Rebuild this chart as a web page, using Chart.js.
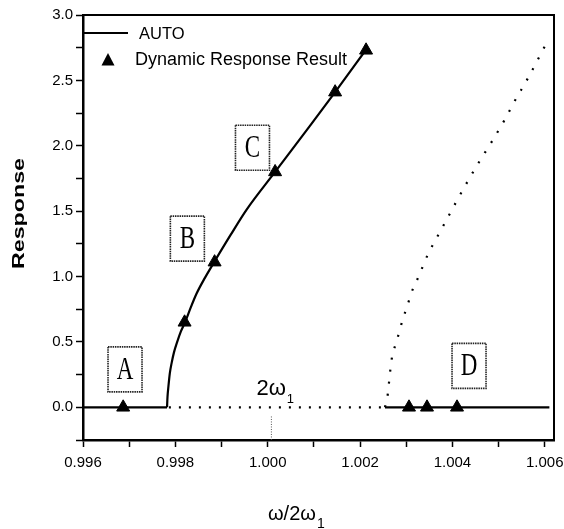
<!DOCTYPE html>
<html><head><meta charset="utf-8">
<script src="https://cdn.jsdelivr.net/npm/chart.js@4.4.1/dist/chart.umd.min.js"></script>
<style>html,body{margin:0;padding:0;background:#fff;overflow:hidden}#wrap{width:564px;height:529px}</style>
</head><body><div id="wrap"><canvas id="c" width="564" height="529"></canvas></div>
<script>
// ---- data ----
const baseX = [0.996, 0.99782];
const baseY = [0, 0];
const stableX = [0.99782, 0.99783, 0.99785, 0.99788, 0.99792, 0.99797, 0.99804, 0.99812, 0.99821, 0.99833, 0.99846, 0.99864, 0.99884, 0.99920, 0.99954, 1.00016, 1.00091, 1.00146, 1.00214];
const stableY = [0, 0.08, 0.16, 0.26, 0.34, 0.42, 0.50, 0.58, 0.65, 0.76, 0.87, 0.99, 1.11, 1.32, 1.51, 1.80, 2.15, 2.41, 2.74];
const zeroDotX = [0.99786, 1.00254];
const zeroDotY = [0, 0];
const zeroSolidX = [1.00254, 1.00610];
const zeroSolidY = [0, 0];
const unstableX = [1.00254, 1.00260, 1.00263, 1.00266, 1.00270, 1.00278, 1.00286, 1.00293, 1.00302, 1.00311, 1.00323, 1.00335, 1.00347, 1.00362, 1.00376, 1.00405, 1.00435, 1.00455, 1.00485, 1.00515, 1.00533, 1.00564, 1.00600];
const unstableY = [0, 0.10, 0.20, 0.30, 0.40, 0.49, 0.59, 0.68, 0.77, 0.875, 0.97, 1.07, 1.17, 1.27, 1.36, 1.55, 1.74, 1.86, 2.03, 2.21, 2.33, 2.52, 2.76];
const dynX = [0.99687, 0.99820, 0.99885, 1.00016, 1.00146, 1.00213, 1.00306, 1.00345, 1.00410];
const dynY = [0, 0.65, 1.11, 1.80, 2.41, 2.73, 0, 0, 0];
const markX = [1.00008, 1.00008];
const markY = [-0.07, -0.25];
const boxLabels = ['A', 'B', 'C', 'D'];
const boxX = [0.99691, 0.99826, 0.99967, 1.00436];
const boxY = [0.29, 1.29, 1.985, 0.317];
const seriesNames = ['AUTO', 'Dynamic Response Result'];
const xTitle = ['ω/2ω', '1'];
const markText = ['2ω', '1'];
const yTitle = 'Response';

const pts = (xs, ys) => xs.map((x, i) => ({x, y: ys[i]}));
const SANS = '"Liberation Sans", Arial, sans-serif';
const SERIF = '"Liberation Serif", "Times New Roman", serif';

const annot = {
  id: 'annot',
  afterDraw(chart) {
    const {ctx, chartArea: a, scales: {x, y}} = chart;
    ctx.save();
    // frame top & right
    ctx.strokeStyle = '#000'; ctx.lineWidth = 2;
    ctx.beginPath(); ctx.moveTo(a.left, a.top); ctx.lineTo(a.right, a.top); ctx.lineTo(a.right, a.bottom); ctx.stroke();
    // legend
    ctx.lineWidth = 2;
    ctx.beginPath(); ctx.moveTo(a.left, a.top + 18); ctx.lineTo(a.left + 45, a.top + 18); ctx.stroke();
    ctx.fillStyle = '#000';
    ctx.font = '16.5px ' + SANS; ctx.textBaseline = 'middle'; ctx.textAlign = 'left';
    ctx.fillText(chart.data.datasets[1].label, a.left + 56, a.top + 19);
    const tx = a.left + 25, ty = a.top + 45;
    ctx.beginPath(); ctx.moveTo(tx, ty - 7); ctx.lineTo(tx + 6.5, ty + 5.5); ctx.lineTo(tx - 6.5, ty + 5.5); ctx.closePath(); ctx.fill();
    ctx.font = '18px ' + SANS;
    ctx.fillText(chart.data.datasets[5].label, a.left + 52, a.top + 45);
    // boxes
    boxLabels.forEach((t, i) => {
      const px = x.getPixelForValue(boxX[i]), py = y.getPixelForValue(boxY[i]);
      ctx.setLineDash([1.5, 0.8]); ctx.lineWidth = 1.6; ctx.strokeStyle = '#222';
      ctx.strokeRect(px - 17, py - 22.5, 34, 45);
      ctx.setLineDash([]);
      ctx.save(); ctx.translate(px, py + 1); ctx.scale(1, 1.35);
      ctx.font = '23px ' + SERIF; ctx.textAlign = 'center'; ctx.textBaseline = 'middle';
      ctx.fillStyle = '#000'; ctx.fillText(t, 0, 0); ctx.restore();
    });
    // 2ω1 marker text
    const mx = x.getPixelForValue(markX[0]);
    ctx.font = '22px ' + SANS; ctx.textAlign = 'left'; ctx.textBaseline = 'alphabetic';
    ctx.fillText(markText[0], mx - 15, y.getPixelForValue(0) - 12);
    const w1 = ctx.measureText(markText[0]).width;
    ctx.font = '13px ' + SANS; ctx.fillText(markText[1], mx - 15 + w1 + 1, y.getPixelForValue(0) - 4);
    // x title
    ctx.font = '20px ' + SANS;
    const xt0 = a.left + 185, xb = a.bottom + 80;
    ctx.fillText(xTitle[0], xt0, xb);
    const w2 = ctx.measureText(xTitle[0]).width;
    ctx.font = '14px ' + SANS; ctx.fillText(xTitle[1], xt0 + w2 + 1, xb + 8);
    // y title
    ctx.save(); ctx.translate(20, (a.top + a.bottom) / 2 - 14); ctx.rotate(-Math.PI / 2); ctx.scale(1.45, 1);
    ctx.font = 'bold 16px ' + SANS; ctx.textAlign = 'center'; ctx.textBaseline = 'middle';
    ctx.fillText(yTitle, 0, 0); ctx.restore();
    ctx.restore();
  }
};

new Chart(document.getElementById('c'), {
  type: 'scatter',
  data: {
    datasets: [
      {label: 'base', data: pts(baseX, baseY), showLine: true, borderColor: '#000', borderWidth: 2.2, pointRadius: 0},
      {label: seriesNames[0], data: pts(stableX, stableY), showLine: true, borderColor: '#000', borderWidth: 2.2, pointRadius: 0, cubicInterpolationMode: 'monotone'},
      {label: 'zero-dotted', data: pts(zeroDotX, zeroDotY), showLine: true, borderColor: '#000', borderWidth: 2.2, borderDash: [2, 8], pointRadius: 0},
      {label: 'zero-solid', data: pts(zeroSolidX, zeroSolidY), showLine: true, borderColor: '#000', borderWidth: 2.2, pointRadius: 0},
      {label: 'unstable', data: pts(unstableX, unstableY), showLine: true, borderColor: '#000', borderWidth: 2.2, borderDash: [2, 10], pointRadius: 0, cubicInterpolationMode: 'monotone'},
      {label: seriesNames[1], data: pts(dynX, dynY), showLine: false, pointStyle: 'triangle', pointRadius: 7.5, backgroundColor: '#000', borderColor: '#000', borderWidth: 1},
      {label: 'mark', data: pts(markX, markY), showLine: true, borderColor: '#555', borderWidth: 1, borderDash: [1, 1.5], pointRadius: 0}
    ]
  },
  options: {
    responsive: false, animation: false, devicePixelRatio: 1,
    layout: {padding: {top: 15, right: 10, left: 0, bottom: 0}},
    plugins: {legend: {display: false}, tooltip: {enabled: false}},
    scales: {
      x: {
        type: 'linear', min: 0.996, max: 1.0062,
        afterFit: s => { s.height = 89; s.paddingLeft = 0; s.paddingRight = 0; },
        ticks: {stepSize: 0.001, includeBounds: false, autoSkip: false, maxRotation: 0, color: '#000', padding: 7,
          font: {family: SANS, size: 15},
          callback: v => { const k = Math.round(v * 1000); return k % 2 === 0 ? (k / 1000).toFixed(3) : ''; }},
        grid: {drawOnChartArea: false, drawTicks: true, tickLength: 7, tickColor: '#000', tickWidth: 1.5},
        border: {color: '#000', width: 2.5}
      },
      y: {
        type: 'linear', min: -0.25, max: 3.0,
        afterFit: s => { s.width = 83; s.paddingTop = 0; s.paddingBottom = 0; },
        ticks: {stepSize: 0.25, includeBounds: false, autoSkip: false, color: '#000', padding: 3,
          font: {family: SANS, size: 15},
          callback: v => { const k = Math.round(v * 4); return k % 2 === 0 ? (k / 4).toFixed(1) : ''; }},
        grid: {drawOnChartArea: false, drawTicks: true, tickLength: 7, tickColor: '#000', tickWidth: 1.5},
        border: {color: '#000', width: 2.5}
      }
    }
  },
  plugins: [annot]
});
</script></body></html>
